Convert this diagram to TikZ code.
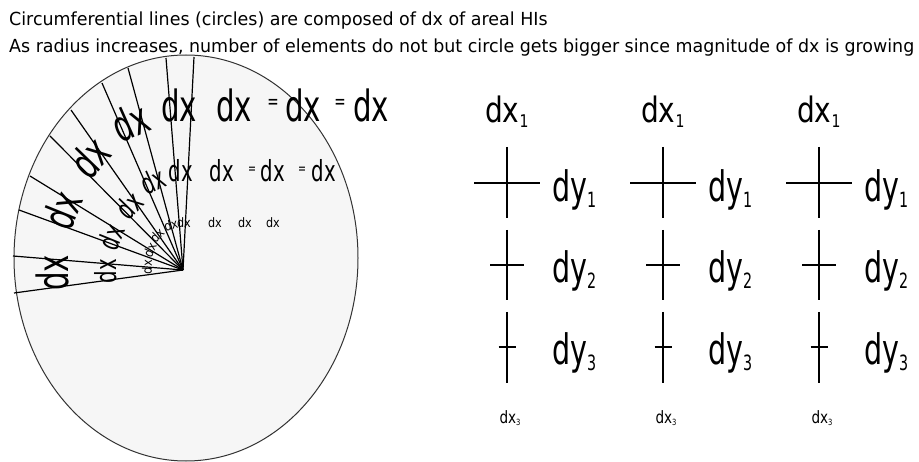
\documentclass[tikz,border=0pt]{standalone}
\usepackage{fontspec}
\setmainfont[FakeStretch=0.86]{DejaVu Sans}
\newfontfamily\titlefont[FakeStretch=0.97]{DejaVu Sans}
\newfontfamily\semifont[FakeStretch=0.80]{DejaVu Sans}
\newfontfamily\slimfont[FakeStretch=0.68]{DejaVu Sans}
\usepackage{graphicx}
\usetikzlibrary{positioning}
\definecolor{Disco}{HTML}{F6F6F6}
\definecolor{Borde}{HTML}{333333}
\newcommand{\lowidx}[1]{\raisebox{-0.14em}{\scalebox{0.5}{#1}}}

\begin{document}
\begin{tikzpicture}[x=1pt,y=-1pt,inner sep=0pt,
  title/.style={font=\titlefont\fontsize{18pt}{18pt}\selectfont,anchor=base west},
  bigdx/.style={font=\slimfont\fontsize{43pt}{43pt}\selectfont},
  middx/.style={font=\slimfont\fontsize{29pt}{29pt}\selectfont},
  smalldx/.style={font=\fontsize{13pt}{13pt}\selectfont},
  bigeq/.style={font=\slimfont\fontsize{20pt}{20pt}\selectfont},
  mideq/.style={font=\slimfont\fontsize{14pt}{14pt}\selectfont},
  toplab/.style={font=\semifont\fontsize{35pt}{35pt}\selectfont,anchor=base west},
  sidelab/.style={font=\slimfont\fontsize{42pt}{42pt}\selectfont,anchor=base west},
  footlab/.style={font=\semifont\fontsize{17pt}{17pt}\selectfont},
  ray/.style={line width=1.2pt},
  bar/.style={line width=2pt}]
  \useasboundingbox (0,0) rectangle (919,462);

  % titulo
  \node[title] (head1) at (9,26) {Circumferential lines (circles) are composed of dx of areal HIs};
  \node[title] (head2) at (9,53) {As radius increases, number of elements do not but circle gets bigger since magnitude of dx is growing};

  % disco con los radios
  \draw[Borde,fill=Disco,line width=1pt] (186,258) ellipse [x radius=172pt,y radius=203pt];
  \coordinate (hub) at (183,270);
  \foreach \px/\py in {194/57,166/58,128/68,102/83,71/110,50/136,30/176,19/210,13/256,14/293}
    \draw[ray] (hub) -- (\px,\py);

  % anillo exterior, medio e interior
  \foreach \px/\py/\rot [count=\i] in {179/105/0,130/122/24,90/157/46,62/210/68,52/273/90}
    \node[bigdx,rotate=\rot] (outer\i) at (\px,\py) {dx};
  \foreach \px/\py/\rot [count=\i] in {181/171/0,153/181/24,129/205/46,111/237/68,106/271/90}
    \node[middx,rotate=\rot] (middle\i) at (\px,\py) {dx};
  \foreach \px/\py/\rot [count=\i] in {184/223/0,171/225/15,157/235/45,150/250/65,147/267/88}
    \node[smalldx,rotate=\rot] (inner\i) at (\px,\py) {dx};

  % filas horizontales
  \node[bigdx] (bigrow1) at (234,105) {dx};
  \node[bigeq] (bigeq1) at (273,104) {=};
  \node[bigdx] (bigrow2) at (303,105) {dx};
  \node[bigeq] (bigeq2) at (340,104) {=};
  \node[bigdx] (bigrow3) at (371,105) {dx};
  \node[middx] (midrow1) at (222,171) {dx};
  \node[mideq] (mideq1) at (252,170) {=};
  \node[middx] (midrow2) at (273,171) {dx};
  \node[mideq] (mideq2) at (302,170) {=};
  \node[middx] (midrow3) at (324,171) {dx};
  \foreach \px [count=\i] in {215,245,273}
    \node[smalldx] (smallrow\i) at (\px,223) {dx};

  % columnas de cruces
  \foreach \cx/\lw [count=\k] in {507/2,663/1.2,819/1.2} {
    \draw[bar] (\cx,147) -- (\cx,218) (\cx,230) -- (\cx,300) (\cx,312) -- (\cx,383);
    \draw[bar] (\cx-33,183) -- (\cx+33,183);
    \draw[line width=\lw pt] (\cx-17,265) -- (\cx+17,265);
    \draw[line width=\lw pt] (\cx-8.5,347) -- (\cx+8.5,347);
    \node[toplab] (top\k) at (\cx-22,123) {dx\lowidx{1}};
    \node[sidelab] (dya\k) at (\cx+45,202) {dy\lowidx{1}};
    \node[sidelab] (dyb\k) at (\cx+45,283) {dy\lowidx{2}};
    \node[sidelab] (dyc\k) at (\cx+45,365) {dy\lowidx{3}};
    \node[footlab] (foot\k) at (\cx+3,418) {dx\lowidx{3}};
  }
\end{tikzpicture}
\end{document}
